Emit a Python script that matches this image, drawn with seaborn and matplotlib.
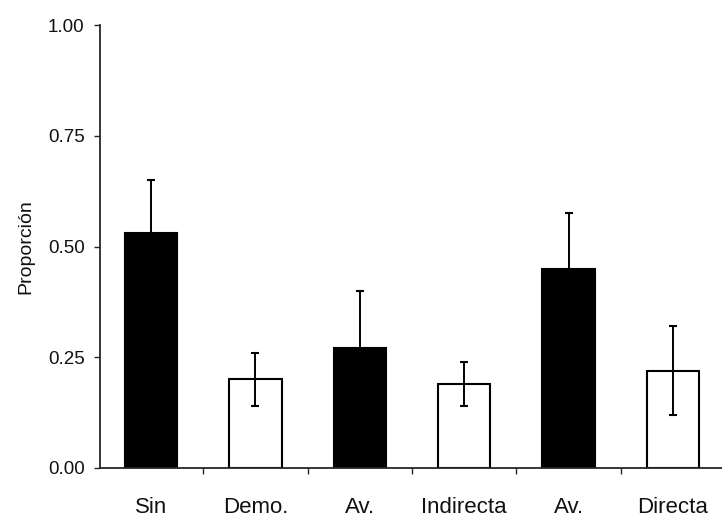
import numpy as np
import pandas as pd
import matplotlib
matplotlib.use('Agg')
import matplotlib.pyplot as plt
import seaborn as sns
from matplotlib.ticker import FixedLocator, FormatStrFormatter

# datos
grupos = ['sin', 'demo', 'av_ind', 'indirecta', 'av_dir', 'directa']
etiquetas = ['Sin', 'Demo.', 'Av.', 'Indirecta', 'Av.', 'Directa']
proporcion = [0.53, 0.20, 0.27, 0.19, 0.45, 0.22]
error = [0.12, 0.06, 0.13, 0.05, 0.125, 0.10]
colores = ['black', 'white', 'black', 'white', 'black', 'white']

sns.set_style('ticks')
plt.rcParams['font.family'] = ['Liberation Sans', 'DejaVu Sans']

df = pd.DataFrame({'grupo': grupos, 'proporcion': proporcion})

fig = plt.figure(figsize=(7.22, 5.17), dpi=100)
ax = fig.add_axes([0.1385, 0.0948, 0.8615, 0.8568])

sns.barplot(data=df, x='grupo', y='proporcion', hue='grupo', order=grupos,
            palette=dict(zip(grupos, colores)), width=0.5, errorbar=None,
            edgecolor='black', linewidth=1.5, legend=False, ax=ax)

# barras de error
ax.errorbar(np.arange(len(grupos)), proporcion, yerr=error, fmt='none',
            ecolor='black', elinewidth=1.4, capsize=3, capthick=1.5, zorder=5)

# ejes
ax.set_ylim(0, 1.0)
ax.set_xlim(-0.49, 5.47)
ax.set_yticks([0, 0.25, 0.5, 0.75, 1.0])
ax.yaxis.set_major_formatter(FormatStrFormatter('%.2f'))
ax.tick_params(axis='y', direction='out', length=4, width=1, pad=7,
               labelsize=13.5, labelcolor='#111111')

ax.set_xticks(range(len(grupos)))
ax.set_xticklabels(etiquetas)
ax.tick_params(axis='x', which='major', length=0, pad=21, labelsize=16,
               labelcolor='#111111')
ax.xaxis.set_minor_locator(FixedLocator([0.5, 1.5, 2.5, 3.5, 4.5]))
ax.tick_params(axis='x', which='minor', direction='out', length=4, width=1)

ax.set_xlabel('')
ax.set_ylabel('Proporción', fontsize=14, labelpad=10, color='#111111')

sns.despine(ax=ax)
ax.spines['left'].set_linewidth(1.3)
ax.spines['bottom'].set_linewidth(1.3)

plt.savefig('out.png', dpi=100)
